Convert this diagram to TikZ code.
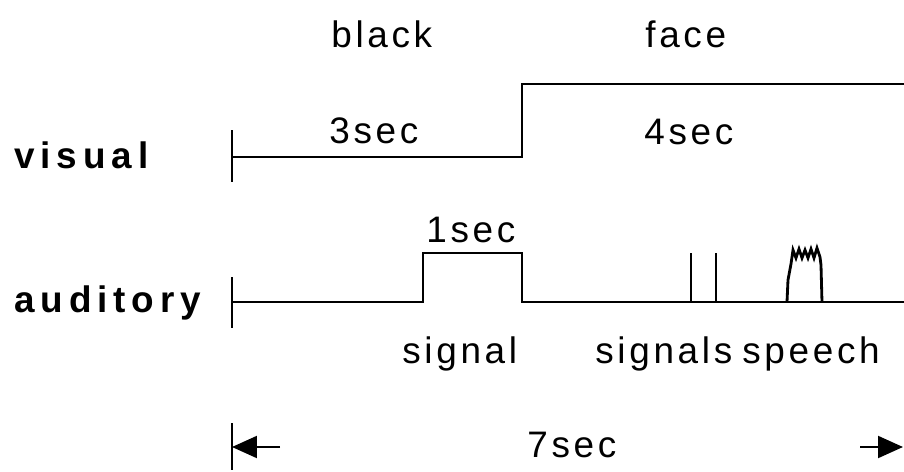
\documentclass[tikz,border=0pt]{standalone}
\usepackage{fontspec}
\setmainfont{Liberation Sans}[LetterSpace=10]
\newfontfamily\rowfont{Liberation Sans}[LetterSpace=16]
\usetikzlibrary{arrows.meta}
\begin{document}
\begin{tikzpicture}[x=0.02cm, y=-0.02cm,
    lbl/.style={anchor=base west, inner sep=0pt, font=\fontsize{21}{24}\selectfont},
    rowlbl/.style={lbl, font=\rowfont\fontsize{21}{24}\selectfont\bfseries},
    trace/.style={line width=1.2pt, line join=miter},
    span/.style={line width=1.2pt, -{Triangle[length=0.5cm, width=0.44cm]}}]
  \useasboundingbox (0,0) rectangle (904,471);

  % labels
  \node[lbl] (black) at (331,47) {black};
  \node[lbl] (face) at (645,47) {face};
  \node[lbl] (t3) at (329,143) {3sec};
  \node[lbl] (t4) at (644,144) {4sec};
  \node[rowlbl] (visual) at (14,168) {visual};
  \node[lbl] (t1) at (426,242) {1sec};
  \node[rowlbl] (auditory) at (14,312) {auditory};
  \node[lbl] (signal) at (402,363) {signal};
  \node[lbl] (signals) at (595,363) {signals};
  \node[lbl] (speech) at (742,363) {speech};
  \node[lbl] (t7) at (527,457) {7sec};

  % visual row: black screen, then face
  \draw[trace] (232,130) -- (232,182);
  \draw[trace] (232,157) -- (522,157) -- (522,84) -- (904,84);

  % auditory row: 1 s signal, two short signals, speech burst
  \draw[trace] (232,277) -- (232,328);
  \draw[trace] (232,302) -- (423,302) -- (423,253) -- (522,253) -- (522,302) -- (904,302);
  \draw[trace] (691,302) -- (691,253);
  \draw[trace] (716,302) -- (716,253);
  \draw[trace, line width=1.6pt] (787,302) -- (788,280) -- (791,264)
     -- (793,250) -- (796,258) -- (799,249) -- (802,258) -- (805,250)
     -- (808,258) -- (811,249) -- (814,258) -- (817,248) -- (820,257)
     -- (821,265) -- (822,302);

  % total duration
  \coordinate (tl) at (232,447);
  \coordinate (tr) at (903,447);
  \draw[trace] (232,423) -- (232,470);
  \draw[span] (280,447) -- (tl);
  \draw[span] (860,447) -- (tr);
\end{tikzpicture}
\end{document}
